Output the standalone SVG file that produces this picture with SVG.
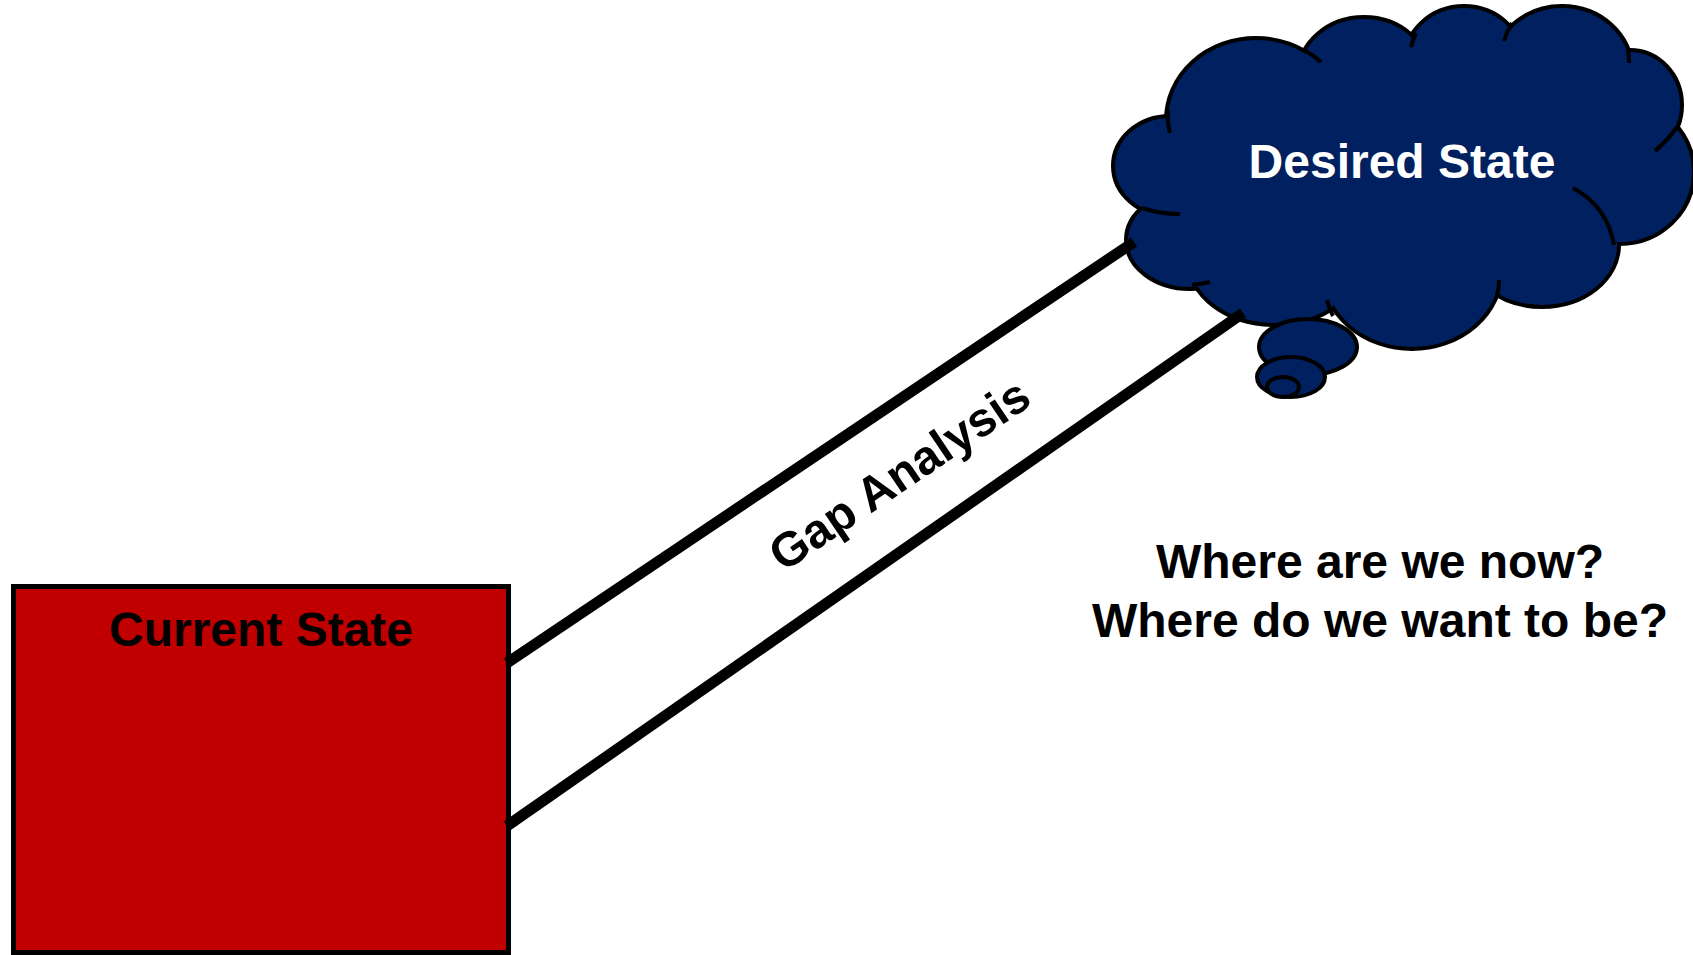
<svg xmlns="http://www.w3.org/2000/svg" xmlns:xlink="http://www.w3.org/1999/xlink" width="1693" height="955" viewBox="0 0 1693 955">
<style>
.lbl{font-family:"Liberation Sans",Arial,sans-serif;font-weight:bold;font-size:48px;text-anchor:middle}
.cs{fill:#002060;stroke:#000;stroke-width:8}
.cf{fill:#002060;stroke:none}
.tick{fill:none;stroke:#000;stroke-width:4}
.bub{fill:#002060;stroke:#000;stroke-width:4}
.conn{stroke:#000;stroke-width:11;fill:none}
</style>
<defs>
<g id="lobes">
<ellipse cx="1170" cy="166" rx="55" ry="48"/>
<ellipse cx="1256" cy="120" rx="88" ry="80"/>
<ellipse cx="1364" cy="75" rx="64" ry="56"/>
<ellipse cx="1464" cy="62" rx="58" ry="54"/>
<ellipse cx="1562" cy="70" rx="68" ry="62"/>
<ellipse cx="1630" cy="105" rx="50" ry="53"/>
<ellipse cx="1620" cy="172" rx="72" ry="70"/>
<ellipse cx="1542" cy="245" rx="75" ry="60"/>
<ellipse cx="1412" cy="270" rx="88" ry="77"/>
<ellipse cx="1275" cy="260" rx="85" ry="63"/>
<ellipse cx="1190" cy="240" rx="62" ry="47"/>
<ellipse cx="1400" cy="170" rx="200" ry="120"/>
</g>
</defs>
<g id="current-state">
<rect x="13.5" y="586.5" width="495" height="366" fill="#C00000" stroke="#000" stroke-width="5"/>
<text class="lbl" x="261" y="646" fill="#000">Current State</text>
</g>
<g id="desired-state">
<use xlink:href="#lobes" class="cs"/>
<use xlink:href="#lobes" class="cf"/>
<path class="tick" d="M1168,110 Q1167,122 1170,133"/>
<path class="tick" d="M1304,50 Q1313,55 1321,62"/>
<path class="tick" d="M1416,33 Q1413,39 1411,47"/>
<path class="tick" d="M1512,23 Q1507,31 1504,41"/>
<path class="tick" d="M1628,50 Q1629,56 1629,63"/>
<path class="tick" d="M1677,127 Q1668,140 1655,151"/>
<path class="tick" d="M1573,188 Q1607,206 1614,245"/>
<path class="tick" d="M1499,280 Q1499,288 1497,296"/>
<path class="tick" d="M1327,300 Q1329,308 1333,316"/>
<path class="tick" d="M1210,282 Q1201,284 1192,285"/>
<path class="tick" d="M1142,208 Q1160,214 1180,214"/>
<ellipse class="bub" cx="1308" cy="347" rx="49" ry="28"/>
<ellipse class="bub" cx="1291" cy="377" rx="34" ry="20"/>
<ellipse class="bub" cx="1283" cy="387" rx="16" ry="10"/>
<text class="lbl" x="1402" y="178" fill="#fff">Desired State</text>
</g>
<g id="connectors">
<line class="conn" x1="507" y1="663" x2="1134" y2="242"/>
<line class="conn" x1="507" y1="826" x2="1243" y2="313"/>
</g>
<g id="gap-label">
<text class="lbl" transform="translate(899,474) rotate(-34)" x="0" y="17">Gap Analysis</text>
</g>
<g id="questions">
<text class="lbl" x="1380" y="578">Where are we now?</text>
<text class="lbl" x="1380" y="637">Where do we want to be?</text>
</g>
</svg>
